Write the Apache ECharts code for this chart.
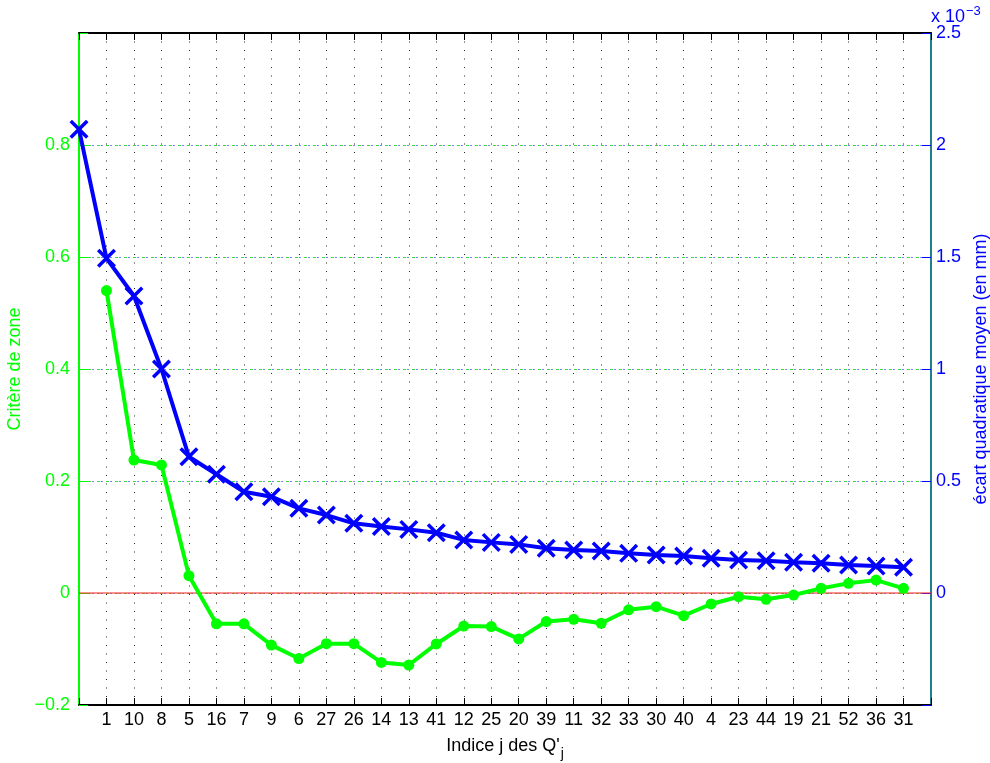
<!DOCTYPE html>
<html>
<head>
<meta charset="utf-8">
<script src="https://cdn.jsdelivr.net/npm/echarts@6/dist/echarts.min.js"></script>
<style>
  html, body { margin: 0; padding: 0; background: #ffffff; }
  #chart { width: 990px; height: 763px; }
</style>
</head>
<body>
<div id="chart"></div>
<script>
// Indices j of the Q'_j, in plotting order
const labels = ['1','10','8','5','16','7','9','6','27','26','14','13','41','12','25','20','39','11','32','33','30','40','4','23','44','19','21','52','36','31'];

// Écart quadratique moyen (en mm), in units of 1e-3; first value is the starting point (no index)
const ecart = [2.07, 1.494, 1.326, 1.0, 0.608, 0.53, 0.452, 0.43, 0.378, 0.348, 0.311, 0.297, 0.284, 0.269, 0.237, 0.226, 0.217, 0.2, 0.192, 0.1875, 0.177, 0.17, 0.165, 0.155, 0.147, 0.144, 0.137, 0.1325, 0.125, 0.12, 0.1146];

// Critère de zone, one value per index j
const critere = [0.54, 0.2375, 0.2286, 0.031, -0.055, -0.055, -0.093, -0.117, -0.0905, -0.0905, -0.124, -0.1286, -0.091, -0.059, -0.06, -0.082, -0.051, -0.047, -0.054, -0.030, -0.0244, -0.0405, -0.0196, -0.0066, -0.0113, -0.0036, 0.0083, 0.0173, 0.023, 0.0083];

// Axis ticks
const leftTicks = { min: -0.2, max: 1.0, step: 0.2, hidden: [1.0] };
const rightTicks = { min: -0.5, max: 2.5, step: 0.5, hidden: [-0.5] };

const GREEN = '#00ff00';
const BLUE = '#0000ff';
const FONT = 'Liberation Sans, Arial, Helvetica, sans-serif';
const FS = 18;

// Category slots: an empty slot before the first index and after the last one
const categories = [''].concat(labels, ['']);
const ecartSeries = ecart.slice();
const critereSeries = [null].concat(critere);

const fmt = (v, hidden) => {
  const r = +(+v).toFixed(2);
  if (hidden.some(h => Math.abs(h - r) < 1e-9)) return '';
  return r < 0 ? '\u2212' + String(Math.abs(r)) : String(r);
};

const crossPath = 'path://M0,2.6 L2.6,0 L10,7.4 L17.4,0 L20,2.6 L12.6,10 L20,17.4 L17.4,20 L10,12.6 L2.6,20 L0,17.4 L7.4,10 Z';

const chart = echarts.init(document.getElementById('chart'), null, { renderer: 'canvas' });

chart.setOption({
  backgroundColor: '#ffffff',
  animation: false,
  textStyle: { fontFamily: FONT },
  grid: { left: 79, right: 59, top: 33, bottom: 58, containLabel: false, outerBoundsMode: 'none' },
  xAxis: [
    {
      type: 'category',
      data: categories,
      boundaryGap: false,
      position: 'bottom',
      name: "Indice j des Q'{sub|j}",
      nameLocation: 'middle',
      nameGap: 26,
      nameTextStyle: {
        color: '#000', fontSize: FS, fontFamily: FONT,
        rich: { sub: { fontSize: 14, color: '#000', padding: [16, 0, 0, 1], fontFamily: FONT } }
      },
      axisLine: { show: true, onZero: false, lineStyle: { color: '#000', width: 2 } },
      axisTick: { show: true, inside: true, length: 7, interval: 0, alignWithLabel: true, lineStyle: { color: '#000', width: 1 } },
      axisLabel: { show: true, interval: 0, color: '#000', fontSize: FS, margin: 6, fontFamily: FONT },
      splitLine: { show: true, interval: 0, lineStyle: { color: '#222', width: 1, type: [1, 7.5] } }
    },
    {
      type: 'category',
      data: categories,
      boundaryGap: false,
      position: 'top',
      axisLine: { show: true, onZero: false, lineStyle: { color: '#000', width: 2 } },
      axisTick: { show: true, inside: true, length: 7, interval: 0, lineStyle: { color: '#000', width: 1 } },
      axisLabel: { show: false },
      splitLine: { show: false }
    }
  ],
  yAxis: [
    {
      type: 'value',
      position: 'left',
      min: leftTicks.min, max: leftTicks.max, interval: leftTicks.step,
      name: 'Critère de zone',
      nameLocation: 'middle',
      nameRotate: 90,
      nameGap: 49,
      nameTextStyle: { color: GREEN, fontSize: FS, fontFamily: FONT },
      axisLine: { show: true, onZero: false, lineStyle: { color: GREEN, width: 2 } },
      axisTick: { show: true, inside: true, length: 9, lineStyle: { color: GREEN } },
      axisLabel: { color: GREEN, fontSize: FS, margin: 9, fontFamily: FONT, formatter: v => fmt(v, leftTicks.hidden) },
      splitLine: { show: true, lineStyle: { color: '#33dd33', width: 1, type: [3, 6] } }
    },
    {
      type: 'value',
      position: 'right',
      min: rightTicks.min, max: rightTicks.max, interval: rightTicks.step,
      name: 'écart quadratique moyen (en mm)',
      nameLocation: 'middle',
      nameRotate: 90,
      nameGap: 41,
      nameTextStyle: { color: BLUE, fontSize: FS, fontFamily: FONT },
      axisLine: { show: true, onZero: false, lineStyle: { color: '#1f7f8f', width: 2 } },
      axisTick: { show: true, inside: true, length: 9, lineStyle: { color: BLUE } },
      axisLabel: { color: BLUE, fontSize: FS, margin: 5, fontFamily: FONT, formatter: v => fmt(v, rightTicks.hidden) },
      splitLine: { show: true, lineStyle: { color: BLUE, width: 1, type: [1, 8], dashOffset: 4.5 } }
    }
  ],
  graphic: [
    {
      type: 'text',
      left: 931,
      top: 5,
      style: {
        text: 'x 10{sup|\u22123}',
        fill: BLUE,
        font: FS + 'px ' + FONT,
        rich: { sup: { fontSize: 13, fill: BLUE, padding: [0, 0, 12, 1], fontFamily: FONT } }
      }
    }
  ],
  series: [
    {
      name: 'Critère de zone',
      type: 'line',
      xAxisIndex: 0,
      yAxisIndex: 0,
      data: critereSeries,
      connectNulls: false,
      symbol: 'circle',
      symbolSize: 11,
      showSymbol: true,
      lineStyle: { color: GREEN, width: 4 },
      itemStyle: { color: GREEN },
      z: 3,
      markLine: {
        silent: true,
        symbol: ['none', 'none'],
        label: { show: false },
        lineStyle: { color: 'rgba(255,40,40,0.7)', width: 1.5, type: 'solid' },
        data: [{ yAxis: 0 }],
        z: 1
      }
    },
    {
      name: 'écart quadratique moyen',
      type: 'line',
      xAxisIndex: 0,
      yAxisIndex: 1,
      data: ecartSeries,
      symbol: crossPath,
      symbolSize: 19,
      showSymbol: true,
      lineStyle: { color: BLUE, width: 4 },
      itemStyle: { color: BLUE },
      z: 4
    }
  ]
});
</script>
</body>
</html>
